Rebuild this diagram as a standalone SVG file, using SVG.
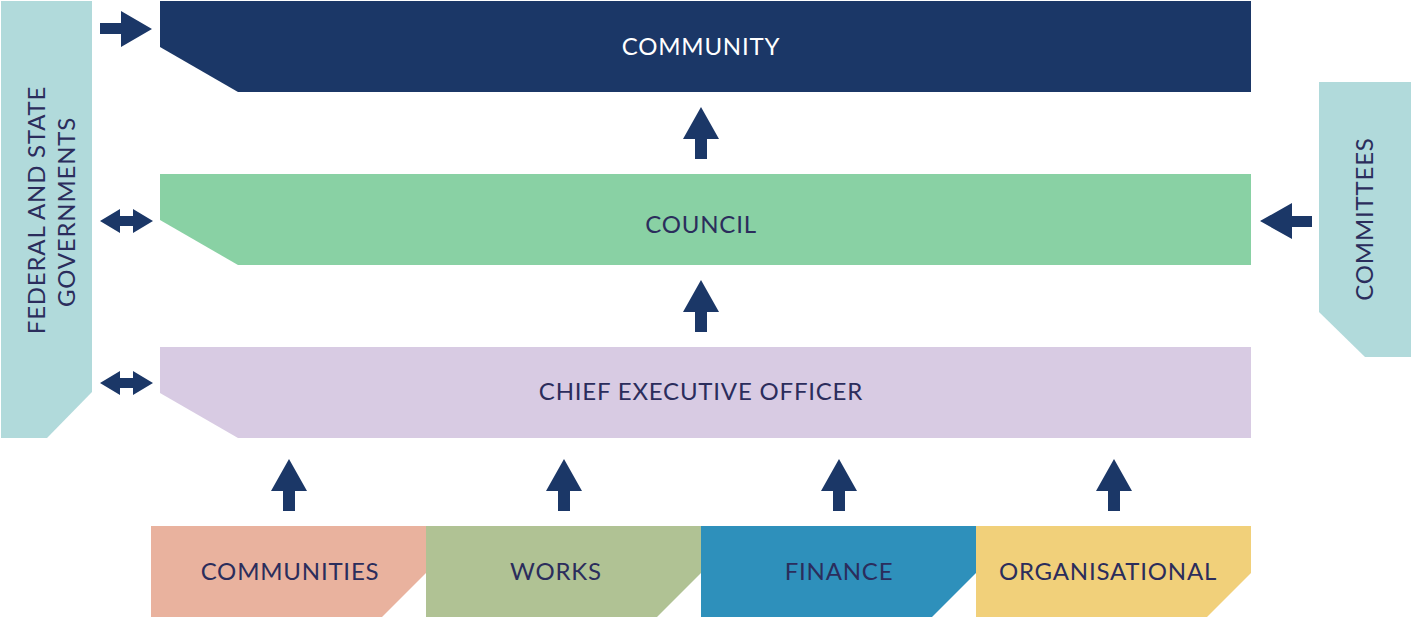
<svg xmlns="http://www.w3.org/2000/svg" width="1412" height="618" viewBox="0 0 1412 618">
<style>
.t{font-family:Lato,"Open Sans","Liberation Sans",sans-serif;font-size:24px;letter-spacing:0.8px;fill:#2b2d5c;text-anchor:middle}
.w{fill:#ffffff}
.arr{fill:#1b3767}
</style>
<defs>
<path id="up" d="M0,0 L18,32 L6,32 L6,52 L-6,52 L-6,32 L-18,32 Z"/>
<path id="dbl" d="M0,0 L20,-12 L20,-5 L33,-5 L33,-12 L53,0 L33,12 L33,5 L20,5 L20,12 Z"/>
</defs>
<rect width="1412" height="618" fill="#ffffff"/>
<g id="federal">
<polygon points="1,1 92,1 92,392 47,438 1,438" fill="#b1dadb"/>
<text class="t" transform="translate(45,210) rotate(-90)">FEDERAL AND STATE</text>
<text class="t" transform="translate(75,212) rotate(-90)">GOVERNMENTS</text>
</g>
<g id="committees">
<polygon points="1319,82 1411,82 1411,357 1365,357 1319,312" fill="#b1dadb"/>
<text class="t" transform="translate(1373,219) rotate(-90)">COMMITTEES</text>
</g>
<g id="community">
<polygon points="160,1 1251,1 1251,92 238,92 160,47" fill="#1b3767"/>
<text class="t w" x="701" y="55">COMMUNITY</text>
</g>
<g id="council">
<polygon points="160,174 1251,174 1251,265 238,265 160,220" fill="#89d1a4"/>
<text class="t" x="701" y="233">COUNCIL</text>
</g>
<g id="ceo">
<polygon points="160,347 1251,347 1251,438 238,438 160,393" fill="#d8cbe3"/>
<text class="t" x="701" y="400">CHIEF EXECUTIVE OFFICER</text>
</g>
<g id="communities">
<polygon points="151,526 426,526 426,573 382,617 151,617" fill="#e9b29e"/>
<text class="t" x="290" y="580">COMMUNITIES</text>
</g>
<g id="works">
<polygon points="426,526 701,526 701,573 657,617 426,617" fill="#b0c294"/>
<text class="t" x="556" y="580">WORKS</text>
</g>
<g id="finance">
<polygon points="701,526 976,526 976,573 932,617 701,617" fill="#2e90bb"/>
<text class="t" x="839" y="580">FINANCE</text>
</g>
<g id="organisational">
<polygon points="976,526 1251,526 1251,573 1207,617 976,617" fill="#f1d07a"/>
<text class="t" x="1108" y="580">ORGANISATIONAL</text>
</g>
<g id="connectors" class="arr">
<path d="M100,23 L121,23 L121,11 L152,29 L121,47 L121,34 L100,34 Z"/>
<use href="#dbl" x="100" y="221"/>
<use href="#dbl" x="100" y="383"/>
<path d="M1260,221 L1292,203 L1292,216 L1312,216 L1312,227 L1292,227 L1292,239 Z"/>
<use href="#up" x="701" y="107"/>
<use href="#up" x="701" y="280"/>
<use href="#up" x="289" y="459"/>
<use href="#up" x="564" y="459"/>
<use href="#up" x="839" y="459"/>
<use href="#up" x="1114" y="459"/>
</g>
</svg>
